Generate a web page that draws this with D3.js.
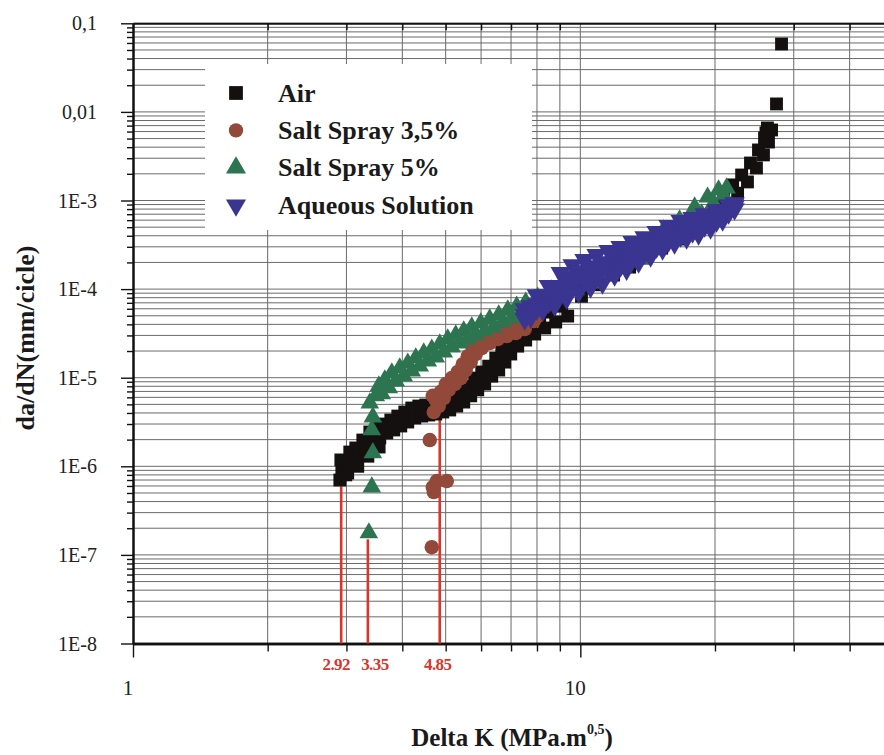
<!DOCTYPE html>
<html>
<head>
<meta charset="utf-8">
<script src="https://cdn.jsdelivr.net/npm/d3@7"></script>
<style>
  html, body { margin: 0; padding: 0; background: #fff; }
  svg { display: block; font-family: "Liberation Serif", "Times New Roman", serif; }
</style>
</head>
<body>
<svg id="chart" width="884" height="755"></svg>
<script>
// Series: Delta K (MPa.m^0.5) and da/dN (mm/cycle)
const airK = [2.90, 2.93, 2.915, 2.99, 3.007, 3.052, 3.10, 3.148, 3.214, 3.264, 3.315, 3.384, 3.437, 3.508, 3.562, 3.636, 3.693, 3.77, 3.828, 3.908,
  3.969, 4.051, 4.114, 4.199, 4.265, 4.354, 4.421, 4.513, 4.583, 4.679, 4.752, 4.85, 4.926, 5.029, 5.106, 5.212, 5.293, 5.404, 5.488, 5.602,
  5.688, 5.807, 5.898, 6.02, 6.113, 6.24, 6.338, 6.47, 6.57, 6.673, 6.776, 6.882, 6.99, 7.10, 7.245, 7.396, 7.549, 7.746, 7.907, 8.113,
  8.324, 8.541, 8.81, 9.085, 9.37, 9.712, 10.06, 10.49, 10.93, 11.39, 11.87, 12.37, 12.89, 13.43, 14.0, 14.59, 15.2, 15.83, 16.5, 17.2,
  17.92, 18.67, 19.25, 19.86, 20.48, 20.91, 21.56, 21.9, 22.47, 22.94, 23.64, 24.01, 24.76, 25.02, 25.67, 25.81, 26.34, 26.2, 26.76, 27.45, 28.17,
  3.02, 3.18, 3.35, 3.55, 26.0];
const airRate = [7.0e-7, 9.1e-7, 1.18e-6, 8.0e-7, 1.09e-6, 1.45e-6, 1.12e-6, 1.61e-6, 1.34e-6, 1.98e-6, 1.61e-6, 2.44e-6, 1.88e-6, 2.70e-6, 2.09e-6, 3.0e-6, 2.38e-6, 3.33e-6, 2.57e-6, 3.69e-6,
  2.85e-6, 4.10e-6, 3.16e-6, 4.55e-6, 3.51e-6, 4.79e-6, 3.69e-6, 4.92e-6, 3.79e-6, 5.05e-6, 3.89e-6, 5.31e-6, 4.10e-6, 5.6e-6, 4.32e-6, 6.24e-6, 4.79e-6, 6.93e-6, 5.31e-6, 8.04e-6,
  6.24e-6, 9.9e-6, 7.3e-6, 1.16e-5, 8.47e-6, 1.35e-5, 1.04e-5, 1.66e-5, 1.22e-5, 2.05e-5, 1.50e-5, 2.52e-5, 1.85e-5, 3.11e-5, 2.27e-5, 3.64e-5, 2.66e-5, 4.25e-5, 3.11e-5, 4.71e-5,
  3.64e-5, 5.5e-5, 4.25e-5, 6.41e-5, 4.96e-5, 1.0e-4, 8.3e-5, 1.44e-4, 1.12e-4, 1.82e-4, 1.44e-4, 2.24e-4, 1.77e-4, 2.75e-4, 2.24e-4, 3.5e-4, 2.9e-4, 4.4e-4, 3.68e-4, 5.4e-4,
  4.6e-4, 6.5e-4, 5.7e-4, 7.4e-4, 7.0e-4, 1.06e-3, 8.9e-4, 1.50e-3, 1.21e-3, 1.94e-3, 1.62e-3, 2.65e-3, 2.33e-3, 3.72e-3, 3.27e-3, 5.08e-3, 4.57e-3, 6.59e-3, 6.25e-3, 1.23e-2, 5.84e-2,
  8.4e-7, 1.0e-6, 1.3e-6, 1.65e-6, 5.8e-3];

const salt35K = [4.607, 4.679, 4.703, 4.776, 5.029, 4.655, 4.703, 4.679, 4.752, 4.825, 4.875, 4.951, 5.003, 5.08, 5.159, 5.239, 5.321, 5.404, 5.46, 5.545,
  5.602, 5.688, 5.747, 5.837, 5.927, 6.02, 6.145, 6.273, 6.403, 6.536, 6.707, 6.846, 7.025, 7.171, 7.358, 7.51, 7.706, 7.866, 8.03];
const salt35Rate = [1.98e-6, 5.83e-7, 5.12e-7, 6.82e-7, 6.82e-7, 1.22e-7, 4.10e-6, 6.24e-6, 5.6e-6, 4.79e-6, 6.93e-6, 5.9e-6, 8.47e-6, 7.3e-6, 9.9e-6, 8.47e-6, 1.16e-5, 9.9e-6, 1.42e-5, 1.22e-5,
  1.75e-5, 1.50e-5, 2.16e-5, 1.85e-5, 2.52e-5, 2.16e-5, 2.95e-5, 2.46e-5, 3.27e-5, 2.73e-5, 3.45e-5, 2.95e-5, 3.83e-5, 3.19e-5, 4.25e-5, 3.54e-5, 4.72e-5, 4.36e-5, 4.96e-5];

const salt5K = [3.367, 3.419, 3.437, 3.419, 3.437, 3.384, 3.49, 3.544, 3.599, 3.655, 3.731, 3.789, 3.868, 3.948, 4.03, 4.114, 4.199, 4.287, 4.376, 4.467,
  4.56, 4.655, 4.752, 4.85, 4.951, 5.053, 5.159, 5.266, 5.376, 5.488, 5.602, 5.718, 5.837, 5.989, 6.113, 6.273, 6.403, 6.57, 6.707, 6.882,
  7.025, 7.208, 7.358, 7.549, 7.746, 8.03, 8.324, 8.63, 8.992, 9.37, 9.762, 10.17, 10.6, 11.04, 11.51, 11.99, 12.49, 13.02, 13.57, 14.14,
  14.73, 15.35, 15.99, 16.67, 17.37, 18.01, 18.67, 19.25, 19.86, 20.37, 20.91, 21.23];
const salt5Rate = [1.77e-7, 5.83e-7, 1.42e-6, 2.57e-6, 3.6e-6, 5.18e-6, 6.24e-6, 8.04e-6, 6.58e-6, 9.4e-6, 7.69e-6, 1.13e-5, 9.16e-6, 1.29e-5, 1.04e-5, 1.46e-5, 1.19e-5, 1.67e-5, 1.35e-5, 1.90e-5,
  1.54e-5, 2.10e-5, 1.71e-5, 2.40e-5, 1.95e-5, 2.73e-5, 2.22e-5, 3.03e-5, 2.46e-5, 3.36e-5, 2.73e-5, 3.73e-5, 3.03e-5, 4.14e-5, 3.36e-5, 4.6e-5, 3.73e-5, 5.09e-5, 4.25e-5, 5.8e-5,
  4.72e-5, 6.41e-5, 5.37e-5, 7.12e-5, 5.95e-5, 8.1e-5, 6.76e-5, 9.8e-5, 8.1e-5, 1.17e-4, 9.8e-5, 1.40e-4, 1.17e-4, 1.73e-4, 1.44e-4, 2.13e-4, 1.77e-4, 2.63e-4, 2.19e-4, 3.31e-4,
  2.77e-4, 4.65e-4, 3.97e-4, 6.03e-4, 5.43e-4, 8.43e-4, 7.03e-4, 1.09e-3, 9.34e-4, 1.31e-3, 1.15e-3, 1.38e-3];

const aqueousK = [7.51, 7.51, 7.51, 7.746, 7.746, 7.746, 7.99, 7.99, 7.99, 8.24, 8.24, 8.24, 8.50, 8.50, 8.50, 8.764, 8.764, 8.764,
  9.04, 9.04, 9.04, 9.32, 9.32, 9.32, 9.61, 9.61, 9.61, 9.91, 9.91, 9.91, 10.22, 10.22, 10.22, 10.54, 10.54, 10.54,
  10.87, 10.87, 10.87, 11.21, 11.21, 11.21, 11.57, 11.57, 11.57, 11.93, 11.93, 11.93, 12.30, 12.30, 12.30, 12.69, 12.69, 12.69,
  13.09, 13.09, 13.09, 13.50, 13.50, 13.50, 13.92, 13.92, 13.92, 14.36, 14.36, 14.36, 14.81, 14.81, 14.81, 15.27, 15.27, 15.27,
  15.75, 15.75, 15.75, 16.24, 16.24, 16.24, 16.76, 16.76, 16.76, 17.28, 17.28, 17.28, 17.82, 17.82, 17.82, 18.38, 18.38, 18.38,
  18.96, 18.96, 18.96, 19.55, 19.55, 19.55, 20.16, 20.16, 20.16, 20.80, 20.80, 20.80, 21.45, 21.45, 21.45, 22.12, 22.12, 22.12];
const aqueousRate = [5.95e-5, 5.09e-5, 4.6e-5, 6.44e-5, 5.8e-5, 4.84e-5, 8.54e-5, 6.76e-5, 5.95e-5, 8.54e-5, 7.5e-5, 5.8e-5, 1.09e-4, 8.1e-5, 7.12e-5, 1.09e-4, 9.3e-5, 6.59e-5,
  1.52e-4, 1.06e-4, 9.07e-5, 1.37e-4, 1.17e-4, 7.9e-5, 1.87e-4, 1.27e-4, 1.09e-4, 1.60e-4, 1.37e-4, 9.3e-5, 2.13e-4, 1.44e-4, 1.24e-4, 1.82e-4, 1.56e-4, 1.06e-4,
  2.43e-4, 1.64e-4, 1.41e-4, 2.02e-4, 1.73e-4, 1.17e-4, 2.70e-4, 1.87e-4, 1.60e-4, 2.36e-4, 2.02e-4, 1.44e-4, 2.99e-4, 2.13e-4, 1.82e-4, 2.63e-4, 2.30e-4, 1.68e-4,
  3.40e-4, 2.50e-4, 2.19e-4, 3.07e-4, 2.70e-4, 2.02e-4, 3.87e-4, 2.92e-4, 2.56e-4, 3.58e-4, 3.14e-4, 2.36e-4, 4.41e-4, 3.40e-4, 2.99e-4, 4.19e-4, 3.67e-4, 2.84e-4,
  5.16e-4, 3.97e-4, 3.49e-4, 4.90e-4, 4.30e-4, 3.31e-4, 5.87e-4, 4.53e-4, 3.97e-4, 5.43e-4, 4.77e-4, 3.77e-4, 6.36e-4, 5.03e-4, 4.41e-4, 6.03e-4, 5.29e-4, 4.19e-4,
  7.03e-4, 5.72e-4, 5.16e-4, 6.69e-4, 6.03e-4, 4.90e-4, 7.8e-4, 6.52e-4, 5.87e-4, 7.8e-4, 7.03e-4, 6.03e-4, 8.87e-4, 7.8e-4, 7.22e-4, 9.34e-4, 8.66e-4, 8.0e-4];

// threshold markers drawn in red down to the axis
const thresholdK = [2.92, 3.35, 4.85];
const thresholdRate = [7.4e-7, 1.5e-7, 3.5e-6];
const thresholdLabels = ['2.92', '3.35', '4.85'];

const seriesNames = ['Air', 'Salt Spray 3,5%', 'Salt Spray 5%', 'Aqueous Solution'];
const xMajorTicks = [1, 10];
const xMinorTicks = [2, 3, 4, 5, 6, 7, 8, 9, 20, 30, 40];
const yMajorTicks = [1e-8, 1e-7, 1e-6, 1e-5, 1e-4, 1e-3, 1e-2, 1e-1];
const yTickLabels = ['1E-8', '1E-7', '1E-6', '1E-5', '1E-4', '1E-3', '0,01', '0,1'];

const svg = d3.select('#chart');
svg.append('rect').attr('width', 884).attr('height', 755).attr('fill', '#fff');

const x = d3.scaleLog().domain([1, 50]).range([133, 893]);
const y = d3.scaleLog().domain([1e-8, 0.1]).range([643.5, 23.3]);

// minor y ticks: 2..9 in each decade
const yMinorTicks = [];
yMajorTicks.slice(0, -1).forEach(d => {
    for (let m = 2; m <= 9; m++) yMinorTicks.push(d * m);
});

// grid
const grid = svg.append('g').attr('stroke', '#6a6a6a').attr('stroke-width', 1);
grid.selectAll('.hy')
    .data(yMajorTicks.concat(yMinorTicks))
    .join('line')
    .attr('x1', x(1)).attr('x2', x(50))
    .attr('y1', d => y(d)).attr('y2', d => y(d));
grid.selectAll('.vx')
    .data(xMinorTicks.concat([10]))
    .join('line')
    .attr('x1', d => x(d)).attr('x2', d => x(d))
    .attr('y1', y(0.1)).attr('y2', y(1e-8));

// axes (ticks only, labels drawn separately)
function addAxis(axisFn, scale, values, size, transform, domainWidth) {
    const g = svg.append('g')
        .attr('transform', transform)
        .call(axisFn(scale).tickValues(values).tickSize(size).tickSizeOuter(0).tickFormat(''));
    g.selectAll('.tick line').attr('stroke', '#111').attr('stroke-width', 1.4);
    g.select('.domain').attr('stroke', '#111').attr('stroke-width', domainWidth);
    return g;
}
addAxis(d3.axisLeft, y, yMinorTicks, 6, `translate(${x(1)},0)`, 2);
addAxis(d3.axisLeft, y, yMajorTicks, 12, `translate(${x(1)},0)`, 2);
addAxis(d3.axisBottom, x, xMinorTicks, 8, `translate(0,${y(1e-8)})`, 2.5);
addAxis(d3.axisBottom, x, xMajorTicks, 14, `translate(0,${y(1e-8)})`, 2.5);
addAxis(d3.axisBottom, x, xMinorTicks, 7, `translate(0,${y(0.1)})`, 2);
addAxis(d3.axisLeft, y, yMajorTicks, -12, `translate(${x(50)},0)`, 2);

// tick labels
svg.append('g').selectAll('text')
    .data(yMajorTicks)
    .join('text')
    .attr('x', 97)
    .attr('y', d => y(d))
    .attr('dy', '0.35em')
    .attr('text-anchor', 'end')
    .attr('font-size', 20)
    .attr('fill', '#222')
    .text((d, i) => yTickLabels[i]);
svg.append('g').selectAll('text')
    .data(xMajorTicks)
    .join('text')
    .attr('x', d => x(d) - 5)
    .attr('y', 695)
    .attr('text-anchor', 'middle')
    .attr('font-size', 21)
    .attr('fill', '#222')
    .text(d => d);

// legend box covers the grid
const legend = svg.append('g');
legend.append('rect')
    .attr('x', 205).attr('y', 64).attr('width', 327).attr('height', 166)
    .attr('fill', '#fff');

// red threshold lines
const red = '#d8352d';
svg.append('g').selectAll('line')
    .data(thresholdK)
    .join('line')
    .attr('x1', d => x(d)).attr('x2', d => x(d))
    .attr('y1', (d, i) => y(thresholdRate[i]))
    .attr('y2', y(1e-8))
    .attr('stroke', red)
    .attr('stroke-width', 2.6);
const labelShift = [-5, 7, -2];
svg.append('g').selectAll('text')
    .data(thresholdK)
    .join('text')
    .attr('x', (d, i) => x(d) + labelShift[i])
    .attr('y', 670)
    .attr('text-anchor', 'middle')
    .attr('font-size', 17)
    .attr('font-weight', 'bold')
    .attr('letter-spacing', -0.6)
    .attr('fill', red)
    .text((d, i) => thresholdLabels[i]);

// data points
const series = [
    { name: seriesNames[0], k: airK, rate: airRate, color: '#141010', type: d3.symbolSquare, size: 165, rot: 0 },
    { name: seriesNames[1], k: salt35K, rate: salt35Rate, color: '#93493a', type: d3.symbolCircle, size: 165, rot: 0 },
    { name: seriesNames[2], k: salt5K, rate: salt5Rate, color: '#2d7450', type: d3.symbolTriangle, size: 150, rot: 0 },
    { name: seriesNames[3], k: aqueousK, rate: aqueousRate, color: '#3a3590', type: d3.symbolTriangle, size: 180, rot: 180 }
];

series.forEach(s => {
    const sym = d3.symbol().type(s.type).size(s.size);
    svg.append('g').selectAll('path')
        .data(s.k.map((k, i) => [k, s.rate[i]]))
        .join('path')
        .attr('d', sym)
        .attr('transform', d => `translate(${x(d[0])},${y(d[1])}) rotate(${s.rot})`)
        .attr('fill', s.color);
});

// legend entries
const legendSizes = [190, 160, 175, 175];
series.forEach((s, i) => {
    const cy = 93 + i * 37.4;
    legend.append('path')
        .attr('d', d3.symbol().type(s.type).size(legendSizes[i]))
        .attr('transform', `translate(236,${cy}) rotate(${s.rot})`)
        .attr('fill', s.color);
    legend.append('text')
        .attr('x', 278)
        .attr('y', cy + 8.5)
        .attr('font-size', 26)
        .attr('font-weight', 'bold')
        .attr('fill', '#1a1a1a')
        .text(s.name);
});

// axis titles
svg.append('text')
    .attr('transform', 'translate(25,338) rotate(-90)')
    .attr('text-anchor', 'middle')
    .attr('dy', '0.35em')
    .attr('font-size', 26)
    .attr('font-weight', 'bold')
    .attr('fill', '#1a1a1a')
    .text('da/dN(mm/cicle)');

const xTitle = svg.append('text')
    .attr('x', 512)
    .attr('y', 746)
    .attr('text-anchor', 'middle')
    .attr('font-size', 25)
    .attr('font-weight', 'bold')
    .attr('fill', '#1a1a1a');
xTitle.append('tspan').text('Delta K (MPa.m');
xTitle.append('tspan').attr('font-size', 14).attr('dy', -12).text('0,5');
xTitle.append('tspan').attr('dy', 12).text(')');
</script>
</body>
</html>
